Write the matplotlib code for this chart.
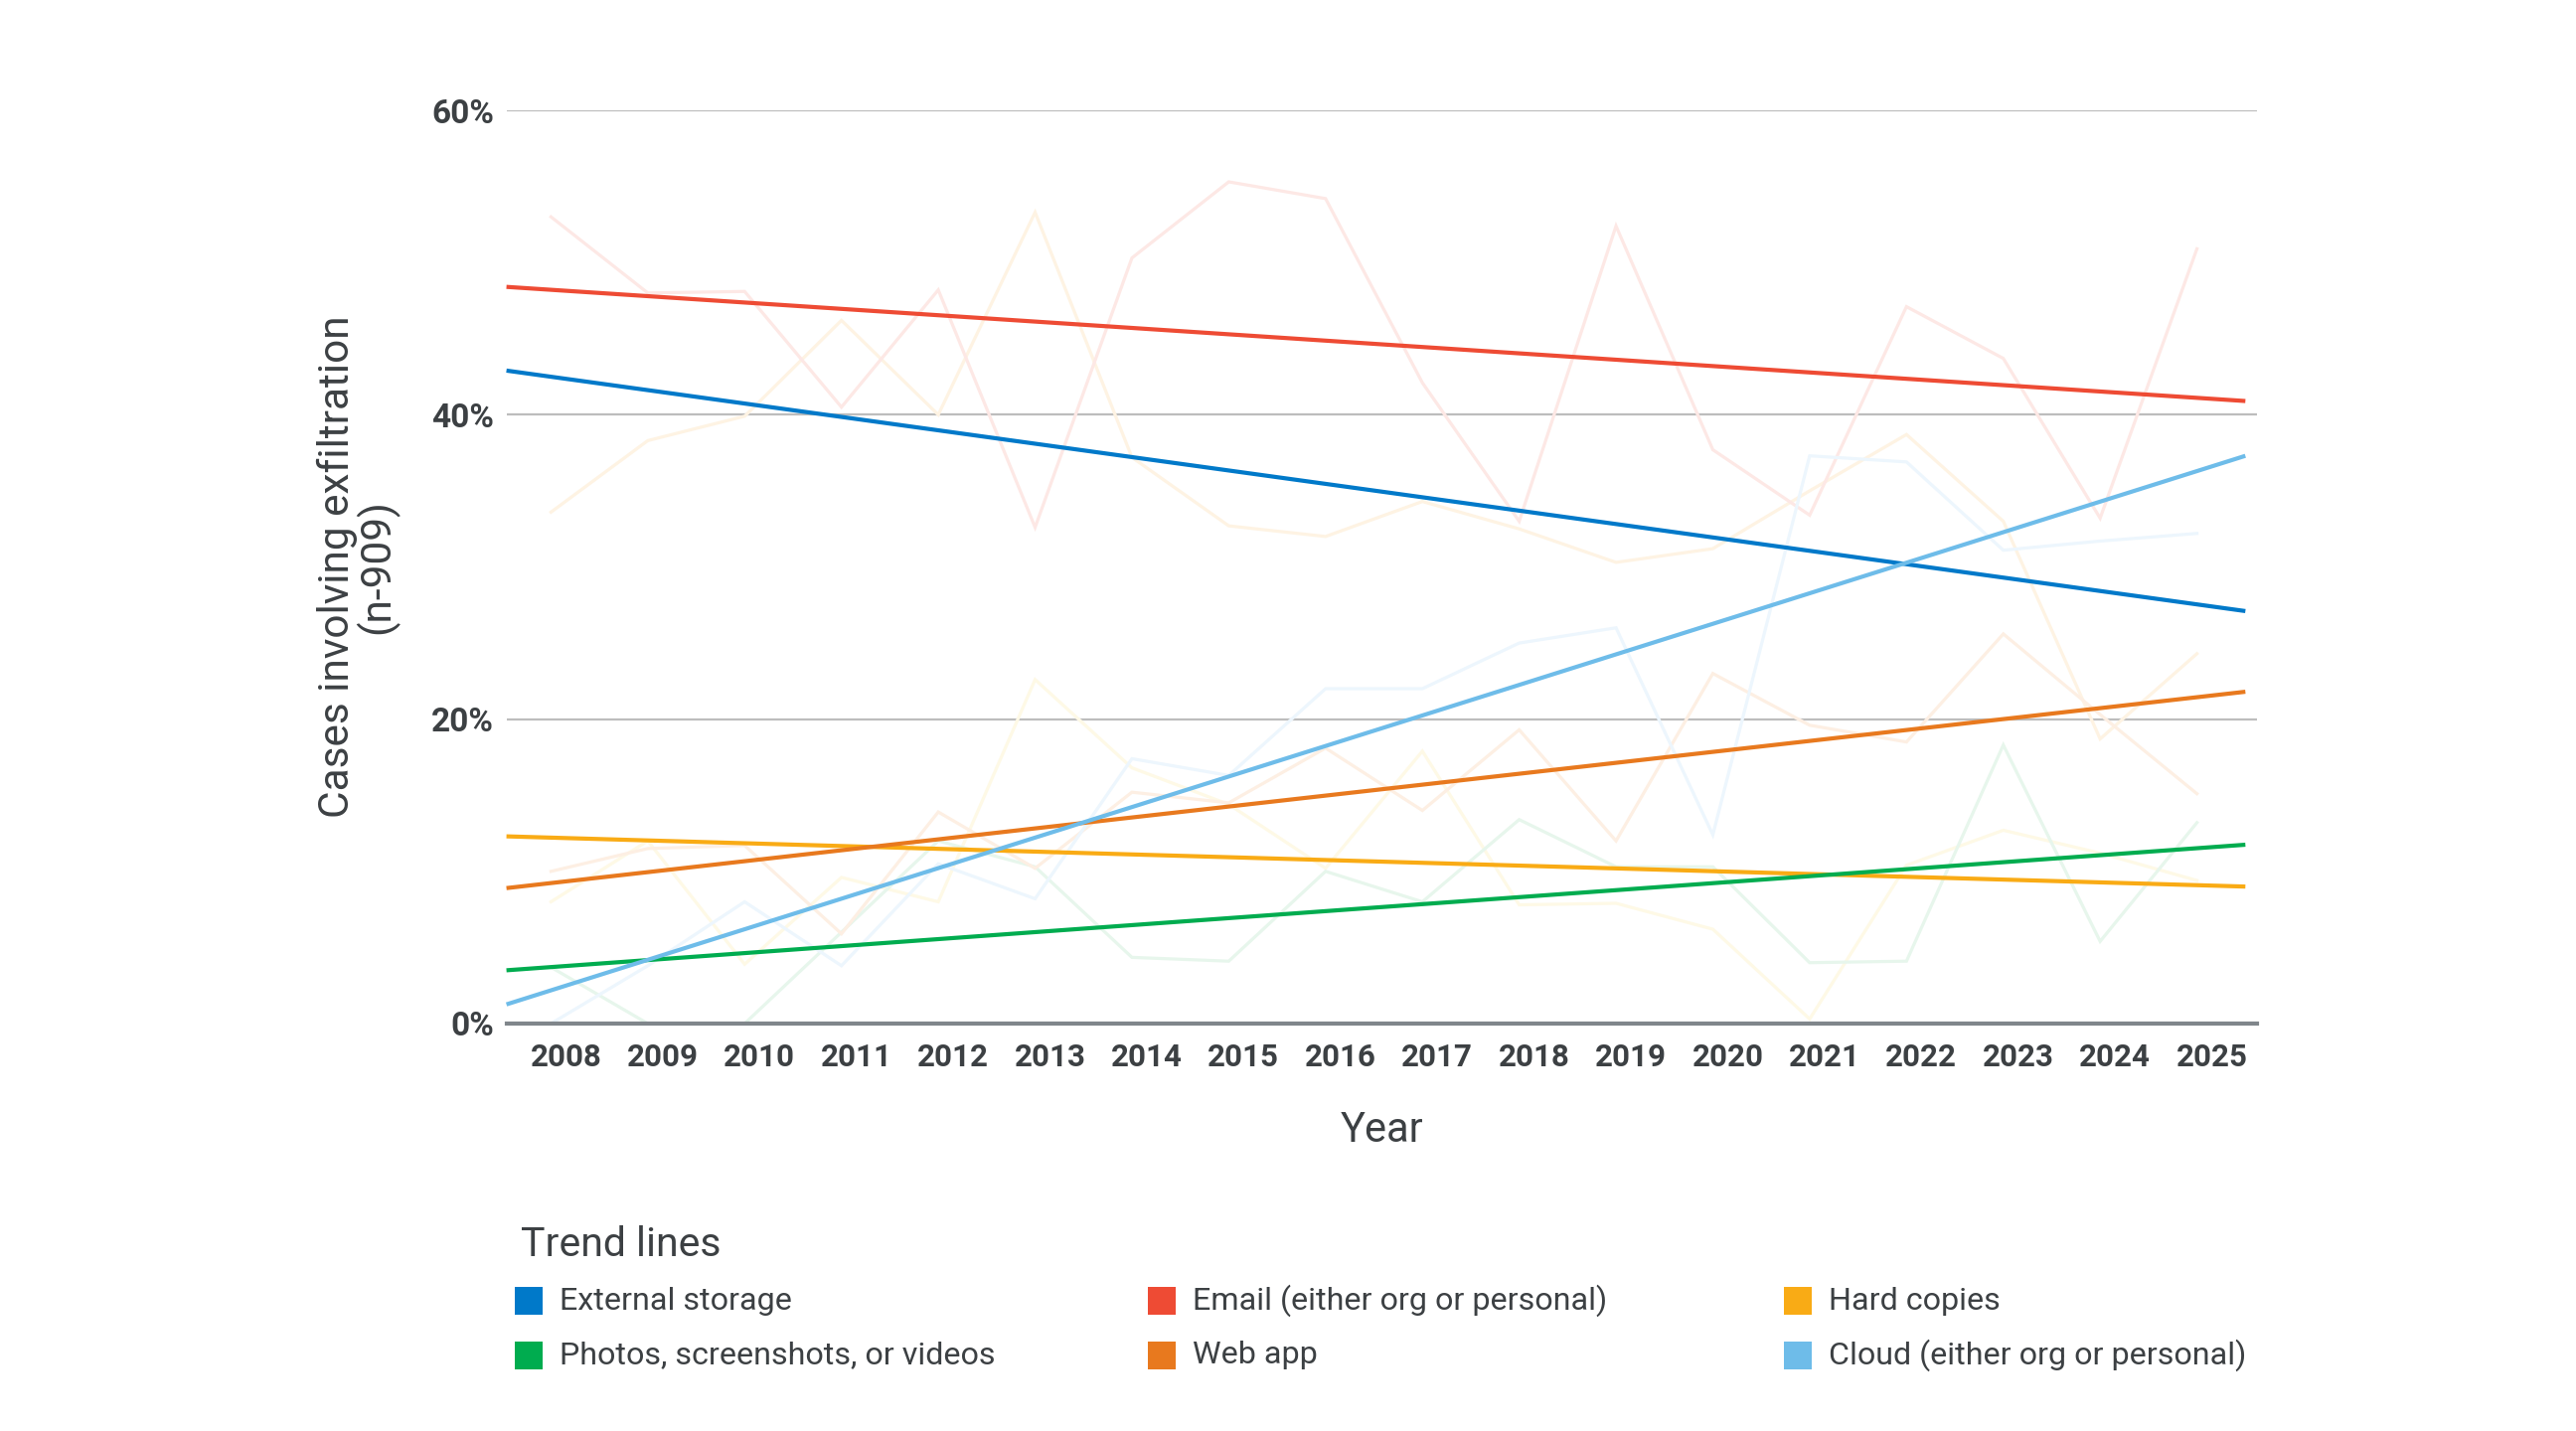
import matplotlib
matplotlib.use("Agg")
import matplotlib.pyplot as plt
import matplotlib.transforms as mtransforms
from matplotlib.patches import Rectangle
import numpy as np

plt.rcParams['font.family'] = ['Roboto', 'DejaVu Sans']

years = [str(y) for y in range(2008, 2026)]

series_names = [
    "External storage",
    "Email (either org or personal)",
    "Hard copies",
    "Photos, screenshots, or videos",
    "Web app",
    "Cloud (either org or personal)",
]
trend_colors = ["#0079C9", "#EE4B34", "#F9AB15", "#00AC4F", "#E8791E", "#6EBCE9"]
faint_colors = ["#FEF3E3", "#FDE8E5", "#FEF9E6", "#E7F6EC", "#FDEFE3", "#EDF6FD"]

# yearly values (%)
external_storage = [33.6, 38.3, 39.9, 46.2, 40.0, 53.3, 37.2, 32.7, 32.0, 34.3, 32.5, 30.3, 31.2, 35.0, 38.7, 33.0, 18.7, 24.3]
email = [53.0, 48.0, 48.1, 40.5, 48.2, 32.6, 50.3, 55.3, 54.2, 42.1, 33.0, 52.4, 37.7, 33.4, 47.1, 43.7, 33.2, 50.9]
hard_copies = [8.0, 12.0, 3.9, 9.6, 8.0, 22.6, 16.8, 14.4, 10.2, 17.9, 7.8, 7.9, 6.2, 0.3, 10.4, 12.7, 11.2, 9.4]
photos = [3.7, 0.0, 0.0, 6.0, 12.0, 10.3, 4.35, 4.1, 10.0, 8.0, 13.4, 10.3, 10.3, 4.0, 4.1, 18.3, 5.4, 13.2]
web_app = [10.0, 11.5, 11.7, 5.9, 13.9, 10.2, 15.2, 14.5, 18.1, 14.0, 19.3, 12.0, 23.0, 19.6, 18.5, 25.6, 20.3, 15.1]
cloud = [0.0, 3.8, 8.0, 3.8, 10.5, 8.2, 17.4, 16.3, 22.0, 22.0, 25.0, 26.0, 12.4, 37.3, 36.9, 31.1, 31.7, 32.2]
series_values = [external_storage, email, hard_copies, photos, web_app, cloud]

# trend line values at the left edge and right end of the plot
trend_x = [-0.46, 17.5]
trend_start = [42.9, 48.4, 12.3, 3.5, 8.9, 1.26]
trend_end = [27.1, 40.9, 9.0, 11.75, 21.8, 37.3]

y_ticks = [0, 20, 40, 60]
y_tick_labels = ["0%", "20%", "40%", "60%"]

W, H = 2592, 1440
fig = plt.figure(figsize=(W / 100, H / 100), dpi=100)
ax = fig.add_axes([509.6 / W, 1 - 1030 / H, (2271 - 509.6) / W, (1030 - 111) / H])

x = np.arange(len(years))
text_color = "#3C4043"

for yv in [20, 40, 60]:
    ax.axhline(yv, color="#BDBDBD", lw=1.6, zorder=1)
ax.axhline(0, color="#80868B", lw=3.0, zorder=6, clip_on=False)

for vals, fc in zip(series_values, faint_colors):
    ax.plot(x, vals, color=fc, lw=2.3, zorder=2, clip_on=False, solid_joinstyle="miter")

for s, e, c in zip(trend_start, trend_end, trend_colors):
    ax.plot(trend_x, [s, e], color=c, lw=3.0, zorder=5, clip_on=False, solid_capstyle="butt")

ax.set_xlim(-0.46, 17.62)
ax.set_ylim(0, 60)
ax.set_yticks(y_ticks)
ax.set_yticklabels(y_tick_labels)
ax.set_xticks(x)
ax.set_xticklabels(years)
for sp in ax.spines.values():
    sp.set_visible(False)
ax.tick_params(axis="both", length=0, labelcolor=text_color)
ax.tick_params(axis="y", pad=9, labelsize=24)
ax.tick_params(axis="x", pad=14, labelsize=22.5)
for lab in ax.get_xticklabels() + ax.get_yticklabels():
    lab.set_fontweight("bold")
offset = mtransforms.ScaledTranslation(0.15, 0, fig.dpi_scale_trans)
for lab in ax.get_xticklabels():
    lab.set_transform(lab.get_transform() + offset)

ax.set_xlabel("Year", fontsize=30, color=text_color, labelpad=27)
fig.text(360 / W, 1 - 570 / H, "Cases involving exfiltration\n(n-909)", rotation=90,
         ha="center", va="center", multialignment="center", fontsize=30.5,
         color=text_color, linespacing=0.93)

# legend
fig.text(524 / W, 1 - 1253 / H, "Trend lines", fontsize=29.5, color=text_color,
         ha="left", va="center")
col_x = [518, 1155, 1795]
row_y = [1309, 1364]
sq = 28
for i, (name, c) in enumerate(zip(series_names, trend_colors)):
    cx = col_x[i % 3]
    cy = row_y[i // 3]
    fig.patches.append(Rectangle((cx / W, 1 - (cy + sq / 2) / H), sq / W, sq / H,
                                 transform=fig.transFigure, facecolor=c, edgecolor="none"))
    fig.text((cx + 45) / W, 1 - cy / H, name, fontsize=23.2, color=text_color,
             ha="left", va="center")

fig.savefig("out.png", dpi=100, facecolor="white")
